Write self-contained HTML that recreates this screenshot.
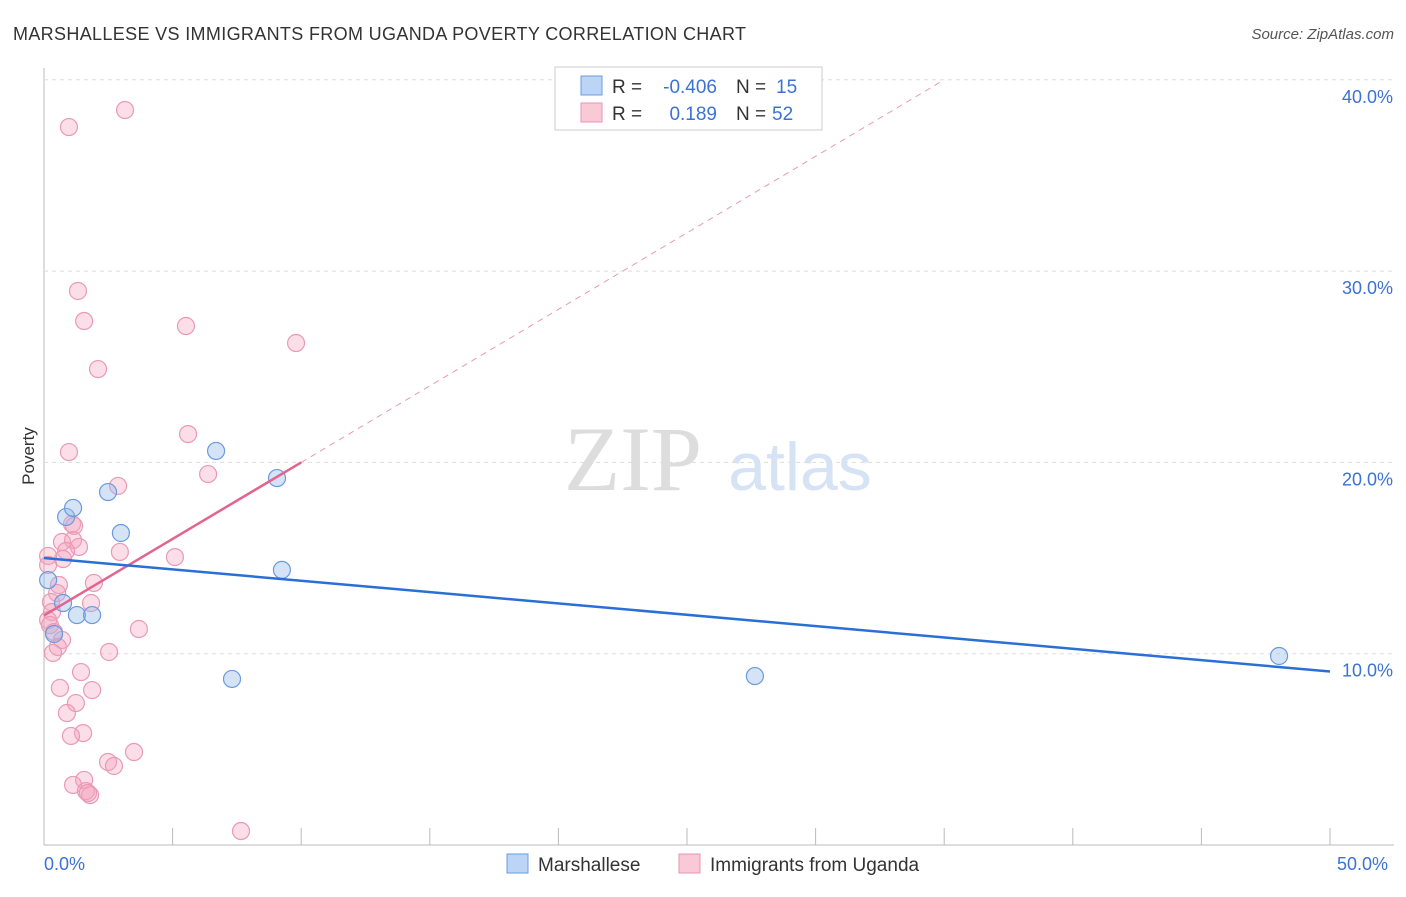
<!DOCTYPE html>
<html><head><meta charset="utf-8"><style>
body{margin:0;background:#fff;font-family:"Liberation Sans",sans-serif;}
</style></head><body>
<svg width="1406" height="892" xmlns="http://www.w3.org/2000/svg" id="chart">
<text x="13" y="40" font-size="18" fill="#333" textLength="733">MARSHALLESE VS IMMIGRANTS FROM UGANDA POVERTY CORRELATION CHART</text>
<text x="1394" y="39" font-size="15" fill="#555" font-style="italic" text-anchor="end">Source: ZipAtlas.com</text>
<text x="633" y="490" font-size="92" fill="#ddd" font-family="Liberation Serif,serif" text-anchor="middle">ZIP</text>
<text x="800" y="490" font-size="68" fill="#d6e3f5" text-anchor="middle">atlas</text>
<text x="34" y="456" font-size="17" fill="#333" transform="rotate(-90 34 456)" text-anchor="middle">Poverty</text>
<g id="grid"></g><g id="marks"></g>
<rect x="555" y="67" width="267" height="63" fill="#fff" stroke="#ccc"/>
<rect x="581" y="76" width="21" height="19" fill="#bcd4f5" stroke="#6a9be0"/>
<rect x="581" y="103" width="21" height="19" fill="#f9c9d8" stroke="#e895b0"/>
<g font-size="19">
<text x="612" y="93" fill="#333">R =</text><text x="717" y="93" fill="#3a72d6" text-anchor="end">-0.406</text>
<text x="736" y="93" fill="#333">N =</text><text x="776" y="93" fill="#3a72d6">15</text>
<text x="612" y="120" fill="#333">R =</text><text x="717" y="120" fill="#3a72d6" text-anchor="end">0.189</text>
<text x="736" y="120" fill="#333">N =</text><text x="772" y="120" fill="#3a72d6">52</text>
</g>
<text x="1337" y="870" font-size="18" fill="#3a72d6">50.0%</text>
<text x="44" y="870" font-size="18" fill="#3a72d6">0.0%</text>
<rect x="507" y="854" width="21" height="19" fill="#bcd4f5" stroke="#6a9be0"/>
<text x="538" y="871" font-size="19" fill="#333">Marshallese</text>
<rect x="679" y="854" width="21" height="19" fill="#f9c9d8" stroke="#e895b0"/>
<text x="710" y="871" font-size="19" fill="#333">Immigrants from Uganda</text>
</svg>
<script>
const yTicks=[10,20,30,40];
const yTickLabels=["10.0%","20.0%","30.0%","40.0%"];
const xTicks=[0,5,10,15,20,25,30,35,40,45,50];
const blueX=[0.16,0.39,0.74,0.86,1.13,1.28,1.87,2.49,2.99,6.69,7.31,9.06,9.25,27.64,48.02];
const blueY=[13.85,11.03,12.65,17.15,17.62,12.02,12.02,18.45,16.31,20.6,8.68,19.18,14.38,8.83,9.88];
const pinkX=[3.15,0.97,1.32,1.56,5.52,9.80,2.10,5.60,0.97,6.38,2.88,1.09,1.17,0.70,1.13,1.36,0.86,2.95,5.09,0.74,0.16,1.94,0.58,0.51,0.27,1.83,0.31,0.16,0.23,3.69,0.39,0.70,0.54,2.53,0.35,1.44,0.62,1.87,1.24,0.89,1.52,1.05,3.50,2.49,2.72,1.56,1.13,1.63,1.79,1.71,7.66,0.16];
const pinkY=[38.42,37.53,28.96,27.39,27.13,26.24,24.88,21.48,20.54,19.39,18.77,16.78,16.68,15.84,15.94,15.58,15.37,15.32,15.05,14.95,15.11,13.70,13.59,13.17,12.70,12.65,12.18,11.76,11.50,11.29,11.13,10.72,10.35,10.09,10.04,9.04,8.21,8.10,7.42,6.90,5.85,5.70,4.86,4.34,4.13,3.40,3.14,2.82,2.61,2.72,0.73,14.64];
const blueTrend=[15.0,9.07];
const pinkTrend=[12.0,20.0];
const X=v=>44+v*25.72, Y=v=>845-v*19.13;
const NS="http://www.w3.org/2000/svg";
function mk(p,t,a){const e=document.createElementNS(NS,t);for(const k in a)e.setAttribute(k,a[k]);p.appendChild(e);return e;}
const g=document.getElementById('grid'), m=document.getElementById('marks');
let ax=mk(g,'line',{x1:44,y1:68,x2:44,y2:845,stroke:'#bbb'});


let bx=mk(g,'line',{x1:44,y1:845,x2:1394,y2:845,stroke:'#bbb'});


yTicks.forEach((t,i)=>{
 const l=mk(g,'line',{x1:44,y1:Y(t),x2:1394,y2:Y(t),stroke:'#ddd','stroke-dasharray':'4,4'});
 
 
 const tx=mk(g,'text',{x:1393,y:Y(t)+23,'font-size':18,fill:'#3a72d6','text-anchor':'end'});
 tx.textContent=yTickLabels[i];
 
 
});
xTicks.forEach(t=>{
 const l=mk(g,'line',{x1:X(t),y1:828,x2:X(t),y2:845,stroke:'#bbb'});
 
 
});
pinkX.forEach((v,i)=>{
 const c=mk(m,'circle',{cx:X(v),cy:Y(pinkY[i]),r:8.5,fill:'rgba(244,160,188,0.35)',stroke:'#eb9ab4','stroke-width':1.2});
 
 
});
blueX.forEach((v,i)=>{
 const c=mk(m,'circle',{cx:X(v),cy:Y(blueY[i]),r:8.5,fill:'rgba(150,185,235,0.4)',stroke:'#6a9be0','stroke-width':1.2});
 
 
});
const ps=(pinkTrend[1]-pinkTrend[0])/10, xe=(40-pinkTrend[0])/ps;
let pd=mk(m,'line',{x1:X(10),y1:Y(pinkTrend[1]),x2:X(xe),y2:Y(40),stroke:'#eb9ab4','stroke-width':1,'stroke-dasharray':'6,5'});


let pl=mk(m,'line',{x1:X(0),y1:Y(pinkTrend[0]),x2:X(10),y2:Y(pinkTrend[1]),stroke:'#e3648e','stroke-width':2.5});


let bl=mk(m,'line',{x1:X(0),y1:Y(blueTrend[0]),x2:X(50),y2:Y(blueTrend[1]),stroke:'#2a6fd6','stroke-width':2.5});


</script>
</body></html>
